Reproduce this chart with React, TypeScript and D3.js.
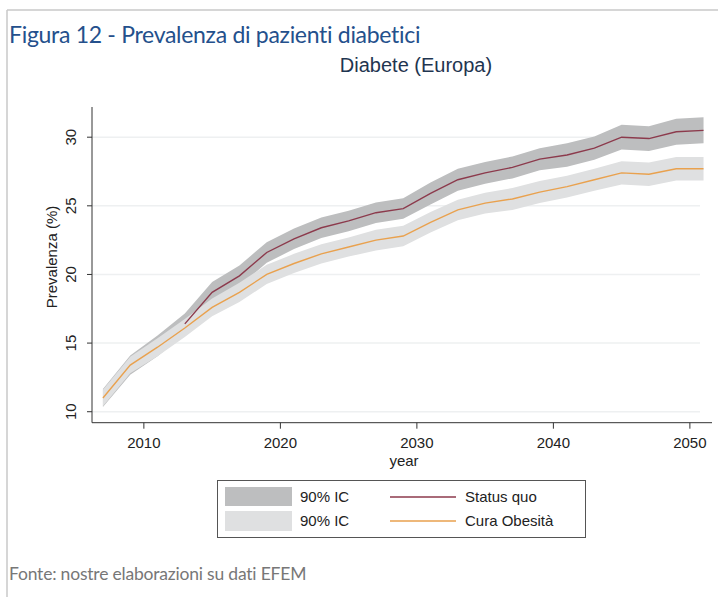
import React, { useMemo } from "react";
import * as d3 from "d3";

// data (every 2 years)
const years = [2007, 2009, 2011, 2013, 2015, 2017, 2019, 2021, 2023, 2025, 2027, 2029, 2031, 2033, 2035, 2037, 2039, 2041, 2043, 2045, 2047, 2049, 2051];
const statusQuo = [11.0, 13.4, 14.8, 16.4, 18.7, 19.9, 21.6, 22.6, 23.4, 23.9, 24.5, 24.8, 25.9, 26.9, 27.4, 27.8, 28.4, 28.7, 29.2, 30.0, 29.9, 30.4, 30.5];
const statusQuoCI = [0.65, 0.7, 0.75, 0.75, 0.75, 0.75, 0.75, 0.75, 0.75, 0.75, 0.75, 0.75, 0.8, 0.8, 0.8, 0.8, 0.8, 0.85, 0.85, 0.9, 0.9, 0.95, 0.95];
const curaObesita = [11.0, 13.4, 14.7, 16.1, 17.6, 18.7, 20.0, 20.8, 21.5, 22.0, 22.5, 22.8, 23.8, 24.7, 25.2, 25.5, 26.0, 26.4, 26.9, 27.4, 27.3, 27.7, 27.7];
const curaObesitaCI = [0.6, 0.6, 0.65, 0.65, 0.65, 0.7, 0.7, 0.7, 0.7, 0.7, 0.75, 0.75, 0.75, 0.75, 0.75, 0.8, 0.8, 0.8, 0.8, 0.85, 0.85, 0.85, 0.85];
const yTicks = [10, 15, 20, 25, 30];
const xTicks = [2010, 2020, 2030, 2040, 2050];

const W = 718;
const H = 597;
const PLOT = { left: 92, right: 712, top: 107, bottom: 422.7 };

const DARK_BAND = "#bdbebf";
const LIGHT_BAND = "#dfe0e1";
const RED = "#8c3a4c";
const ORANGE = "#e9a14e";
const FONT = "'Liberation Sans', Arial, sans-serif";
const PAGE_FONT = "Lato, 'Open Sans', sans-serif";

export default function App() {
  const x = useMemo(() => d3.scaleLinear().domain([2006.2, 2051.62]).range([PLOT.left, PLOT.right]), []);
  const y = useMemo(() => d3.scaleLinear().domain([9.2, 32.2]).range([PLOT.bottom, PLOT.top]), []);

  const band = (vals: number[], ci: number[]) =>
    d3.area<number>()
      .x((_, i) => x(years[i]))
      .y0((d, i) => y(d - ci[i]))
      .y1((d, i) => y(d + ci[i]))(vals) || "";

  const line = (vals: number[], from = 0) =>
    d3.line<number>()
      .defined((_, i) => i >= from)
      .x((_, i) => x(years[i]))
      .y((d) => y(d))(vals) || "";

  return (
    <svg width={W} height={H} style={{ position: "absolute", left: 0, top: 0, background: "#fff" }}>
      {/* outer frame */}
      <line x1={7} y1={10} x2={W} y2={10} stroke="#c8c8c8" strokeWidth={1.5} />
      <line x1={7} y1={10} x2={7} y2={H} stroke="#c8c8c8" strokeWidth={1.5} />

      <text x={9} y={43} fontFamily={PAGE_FONT} fontSize={23} fill="#24508c" letterSpacing={-0.3}>
        Figura 12 - Prevalenza di pazienti diabetici
      </text>

      <text x={416} y={72} textAnchor="middle" fontFamily={FONT} fontSize={20} fill="#1f3550">
        Diabete (Europa)
      </text>

      {/* grid */}
      {yTicks.map((t) => (
        <line key={t} x1={PLOT.left} x2={700} y1={y(t)} y2={y(t)} stroke="#eef0f1" strokeWidth={1.5} />
      ))}

      {/* bands */}
      <path d={band(statusQuo, statusQuoCI)} fill={DARK_BAND} />
      <path d={band(curaObesita, curaObesitaCI)} fill={LIGHT_BAND} />

      {/* lines */}
      <path d={line(statusQuo, 3)} fill="none" stroke={RED} strokeWidth={1.4} />
      <path d={line(curaObesita)} fill="none" stroke={ORANGE} strokeWidth={1.4} />

      {/* y axis */}
      <line x1={PLOT.left} x2={PLOT.left} y1={PLOT.top} y2={PLOT.bottom} stroke="#333" />
      {yTicks.map((t) => (
        <g key={t}>
          <line x1={PLOT.left - 5} x2={PLOT.left} y1={y(t)} y2={y(t)} stroke="#333" />
          <text
            transform={`translate(76,${y(t)}) rotate(-90)`}
            textAnchor="middle"
            fontFamily={FONT}
            fontSize={15}
            fill="#222"
          >
            {t}
          </text>
        </g>
      ))}
      <text transform={`translate(57,257) rotate(-90)`} textAnchor="middle" fontFamily={FONT} fontSize={15} fill="#222">
        Prevalenza (%)
      </text>

      {/* x axis */}
      <line x1={PLOT.left} x2={PLOT.right} y1={PLOT.bottom} y2={PLOT.bottom} stroke="#333" />
      {xTicks.map((t) => (
        <g key={t}>
          <line x1={x(t)} x2={x(t)} y1={PLOT.bottom} y2={PLOT.bottom + 6} stroke="#333" />
          <text x={x(t)} y={448} textAnchor="middle" fontFamily={FONT} fontSize={15} fill="#222">
            {t}
          </text>
        </g>
      ))}
      <text x={404} y={466} textAnchor="middle" fontFamily={FONT} fontSize={15} fill="#222">
        year
      </text>

      {/* legend */}
      <rect x={217.5} y={480.5} width={368} height={57} fill="#fff" stroke="#555" />
      <rect x={225} y={487} width={67} height={19} fill={DARK_BAND} />
      <rect x={225} y={511} width={67} height={20} fill={LIGHT_BAND} />
      <text x={300} y={502} fontFamily={FONT} fontSize={15} fill="#222">90% IC</text>
      <text x={300} y={526} fontFamily={FONT} fontSize={15} fill="#222">90% IC</text>
      <line x1={390} x2={456} y1={497} y2={497} stroke={RED} strokeWidth={1.4} />
      <line x1={390} x2={456} y1={521} y2={521} stroke={ORANGE} strokeWidth={1.4} />
      <text x={465} y={502} fontFamily={FONT} fontSize={15} fill="#222">Status quo</text>
      <text x={465} y={526} fontFamily={FONT} fontSize={15} fill="#222">Cura Obesità</text>

      <text x={9} y={580} fontFamily={PAGE_FONT} fontSize={17.5} fill="#777" letterSpacing={-0.2}>
        Fonte: nostre elaborazioni su dati EFEM
      </text>
    </svg>
  );
}
